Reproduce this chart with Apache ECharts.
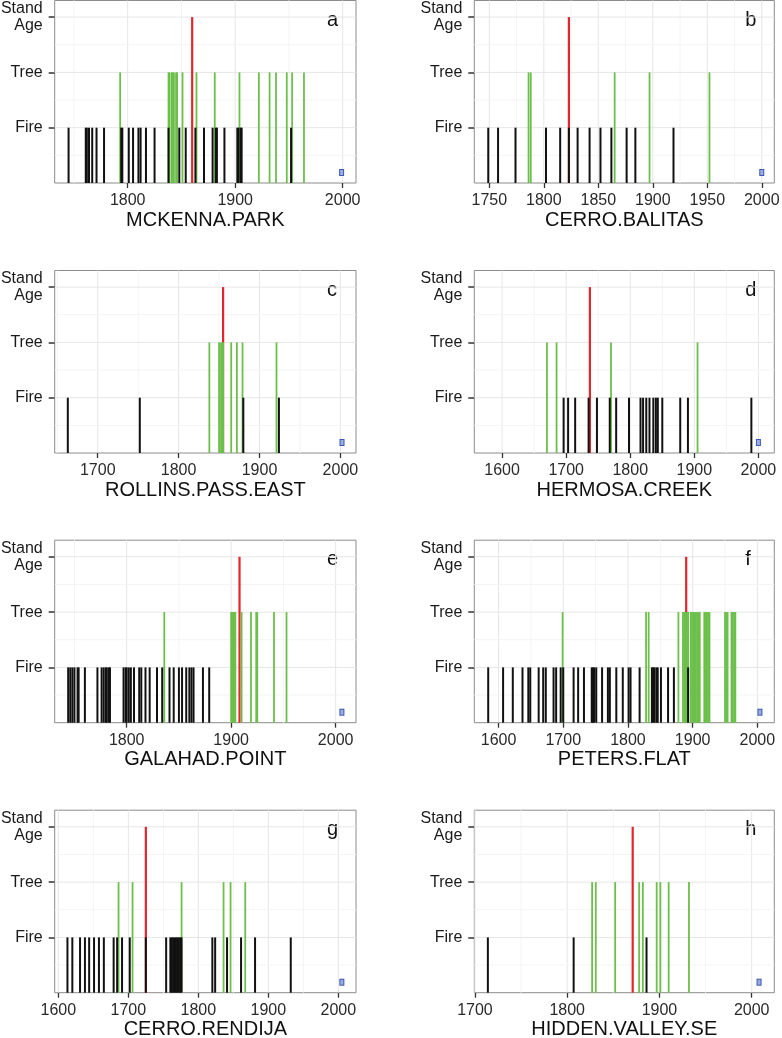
<!DOCTYPE html>
<html><head><meta charset="utf-8">
<script src="https://cdn.jsdelivr.net/npm/echarts@6/dist/echarts.min.js"></script>
<style>html,body{margin:0;padding:0;background:#fff}#c{width:782px;height:1038px}</style>
</head><body><div id="c"></div>
<script>
// ---------- DATA ----------
const siteNames = ['MCKENNA.PARK','CERRO.BALITAS','ROLLINS.PASS.EAST','HERMOSA.CREEK','GALAHAD.POINT','PETERS.FLAT','CERRO.RENDIJA','HIDDEN.VALLEY.SE'];
const panelLetters = ['a','b','c','d','e','f','g','h'];
const levelLabels = ['Fire','Tree','Stand\nAge'];

const fireA = [1745,1761,1762,1764,1767,1771,1778,1794,1795,1801,1805,1810,1812,1817,1825,1838,1848,1854,1863,1871,1879,1882,1883,1890,1902,1903,1905,1906,1952];
const treeA = [1793,1838,1839,1841,1842,1843,1845,1846,1851,1864,1881,1904,1922,1932,1938,1948,1953,1964];
const standA = [1860];

const fireB = [1749,1758,1774,1802,1815,1823,1831,1842,1852,1862,1876,1884,1919];
const treeB = [1786,1788,1865,1897,1952];
const standB = [1823];

const fireC = [1663,1752,1880,1924];
const treeC = [1838,1850,1851,1853,1854,1855,1865,1872,1879,1921];
const standC = [1855];

const fireD = [1696,1703,1714,1735,1748,1768,1778,1798,1816,1820,1825,1830,1836,1840,1843,1850,1878,1890,1989];
const treeD = [1670,1685,1770,1905];
const standD = [1737];

const fireE = [1744,1746,1748,1750,1753,1754,1760,1772,1776,1778,1780,1781,1783,1784,1797,1799,1800,1802,1804,1807,1812,1814,1818,1822,1829,1834,1841,1845,1850,1853,1857,1860,1862,1864,1873,1879];
const treeE = [1836,1900,1901,1902,1903,1904,1910,1919,1924,1925,1941,1953];
const standE = [1908];

const fireF = [1584,1607,1622,1637,1646,1649,1662,1669,1673,1685,1689,1696,1700,1716,1723,1732,1744,1746,1748,1751,1760,1769,1772,1782,1792,1801,1804,1818,1837,1839,1841,1844,1846,1851,1862,1871,1893];
const treeF = [1699,1828,1832,1878,1885,1887,1889,1891,1893,1897,1899,1901,1903,1905,1907,1909,1911,1918,1920,1922,1924,1926,1950,1952,1954,1960,1962,1964,1966];
const standF = [1890];

const fireG = [1613,1620,1631,1638,1644,1651,1658,1665,1679,1684,1691,1702,1725,1754,1760,1762,1764,1766,1768,1770,1772,1774,1776,1820,1824,1841,1861,1881,1932];
const treeG = [1686,1706,1776,1836,1846,1867];
const standG = [1725];

const fireH = [1714,1807,1886];
const treeH = [1827,1831,1852,1878,1882,1897,1901,1910,1932];
const standH = [1871];

const glyphYears = [1999,2000,2002,2000,2006,2004,2005,2008];
const glyphLevel = 0.19;

const xTicksA = [1800,1900,2000];
const xTicksB = [1750,1800,1850,1900,1950,2000];
const xTicksC = [1700,1800,1900,2000];
const xTicksD = [1600,1700,1800,1900,2000];
const xTicksE = [1800,1900,2000];
const xTicksF = [1600,1700,1800,1900,2000];
const xTicksG = [1600,1700,1800,1900,2000];
const xTicksH = [1700,1800,1900,2000];
const yTicks = [1,2,3];

// ---------- LAYOUT ----------
const xRanges = [[1732.1,2012.4],[1736.2,2011.5],[1646.8,2019.3],[1556.6,2024.8],[1731.1,2019.5],[1562.5,2026.2],[1594.8,2025.2],[1699.3,2024.5]];
const colLeft = [54.7,474.3], colWidth = [301.3,300];
const rowBottom = [183,453,722.7,992.7], panelH = 182.5;
const FONT = "'Liberation Sans', Arial, Helvetica, sans-serif";
const C_FIRE = '#111111', C_TREE = '#6cbf4a', C_STAND = '#e3262c';

const fires = [fireA,fireB,fireC,fireD,fireE,fireF,fireG,fireH];
const trees = [treeA,treeB,treeC,treeD,treeE,treeF,treeG,treeH];
const stands = [standA,standB,standC,standD,standE,standF,standG,standH];
const xTicks = [xTicksA,xTicksB,xTicksC,xTicksD,xTicksE,xTicksF,xTicksG,xTicksH];

function minorTicks(ticks, lo, hi){
  const step = ticks[1]-ticks[0];
  const out = [];
  for (let v = ticks[0]-step/2; v <= hi; v += step) if (v >= lo) out.push(v);
  for (let v = ticks[0]-step*1.5; v >= lo; v -= step) out.push(v);
  return out;
}

const grids=[], xAxes=[], yAxes=[], series=[], graphics=[];

function segSeries(i, years, level, color, width, z){
  return {
    type:'custom', xAxisIndex:i, yAxisIndex:i, z:z, silent:true,
    data: years.map(y=>[y, level]),
    renderItem:(params, api)=>{
      const p0 = api.coord([api.value(0), 0]);
      const p1 = api.coord([api.value(0), api.value(1)]);
      return {type:'line', shape:{x1:p0[0], y1:p0[1], x2:p1[0], y2:p1[1]}, style:{stroke:color, lineWidth:width}};
    }
  };
}

for (let i=0;i<8;i++){
  const col=i%2, row=Math.floor(i/2);
  const left=colLeft[col], width=colWidth[col], top=rowBottom[row]-panelH;
  const [xmin,xmax]=xRanges[i];
  grids.push({left:left, top:top, width:width, height:panelH, show:true, backgroundColor:'#ffffff', borderColor:'#8c8c8c', borderWidth:1, containLabel:false, outerBoundsMode:'none'});
  xAxes.push({
    type:'value', gridIndex:i, min:xmin, max:xmax,
    name:siteNames[i], nameLocation:'middle', nameGap:27,
    nameTextStyle:{fontSize:20, color:'#111', fontFamily:FONT},
    axisLine:{show:false},
    axisTick:{show:true, length:5, customValues:xTicks[i], lineStyle:{color:'#333', width:1.3}},
    axisLabel:{show:true, customValues:xTicks[i], formatter:v=>String(Math.round(v)), fontSize:16, color:'#2a2a2a', margin:10, fontFamily:FONT},
    splitLine:{show:false}
  });
  yAxes.push({
    type:'value', gridIndex:i, min:0, max:3.3,
    axisLine:{show:false},
    axisTick:{show:true, length:6, customValues:yTicks, lineStyle:{color:'#333', width:1.5}},
    axisLabel:{show:true, customValues:yTicks, formatter:v=>levelLabels[Math.round(v)-1]||'', fontSize:16, lineHeight:17, color:'#1a1a1a', margin:12, align:'right', fontFamily:FONT},
    splitLine:{show:false}
  });
  // grid lines
  const minX = minorTicks(xTicks[i], xmin, xmax);
  const gl = [];
  xTicks[i].forEach(v=>gl.push([v,0,1]));
  minX.forEach(v=>gl.push([v,0,0]));
  yTicks.forEach(v=>gl.push([v,1,1]));
  [0.5,1.5,2.5].forEach(v=>gl.push([v,1,0]));
  series.push({
    type:'custom', xAxisIndex:i, yAxisIndex:i, z:1, silent:true, clip:false,
    data: gl,
    renderItem:(params, api)=>{
      const cs=params.coordSys; const v=api.value(0), kind=api.value(1), major=api.value(2);
      const color = major ? '#e6e6e6' : '#f4f4f4';
      if (kind===0){ const p=api.coord([v,0]); return {type:'line', shape:{x1:p[0],y1:cs.y,x2:p[0],y2:cs.y+cs.height}, style:{stroke:color,lineWidth:1}}; }
      const p=api.coord([xmin,v]); return {type:'line', shape:{x1:cs.x,y1:p[1],x2:cs.x+cs.width,y2:p[1]}, style:{stroke:color,lineWidth:1}};
    }
  });
  series.push(segSeries(i, stands[i], 3, C_STAND, 2.2, 2));
  series.push(segSeries(i, trees[i], 2, C_TREE, 1.8, 3));
  series.push(segSeries(i, fires[i], 1, C_FIRE, 2, 4));
  series.push({
    type:'custom', xAxisIndex:i, yAxisIndex:i, z:5, silent:true,
    data:[[glyphYears[i], glyphLevel]],
    renderItem:(params, api)=>{
      const p=api.coord([api.value(0), api.value(1)]);
      return {type:'group', children:[
        {type:'rect', shape:{x:p[0]-2.5, y:p[1]-3.5, width:5, height:7}, style:{fill:'#3b58b4'}},
        {type:'rect', shape:{x:p[0]-1.5, y:p[1]-2.5, width:3, height:5}, style:{fill:'#9aaee3'}}
      ]};
    }
  });
  graphics.push({type:'text', left:left+width-24-5, top:top+19.5-10, style:{text:panelLetters[i], fontSize:20, fill:'#111', fontFamily:FONT}});
}

const chart = echarts.init(document.getElementById('c'), null, {renderer:'canvas'});
chart.setOption({
  animation:false, backgroundColor:'#ffffff',
  grid:grids, xAxis:xAxes, yAxis:yAxes, series:series, graphic:graphics
});
</script></body></html>
